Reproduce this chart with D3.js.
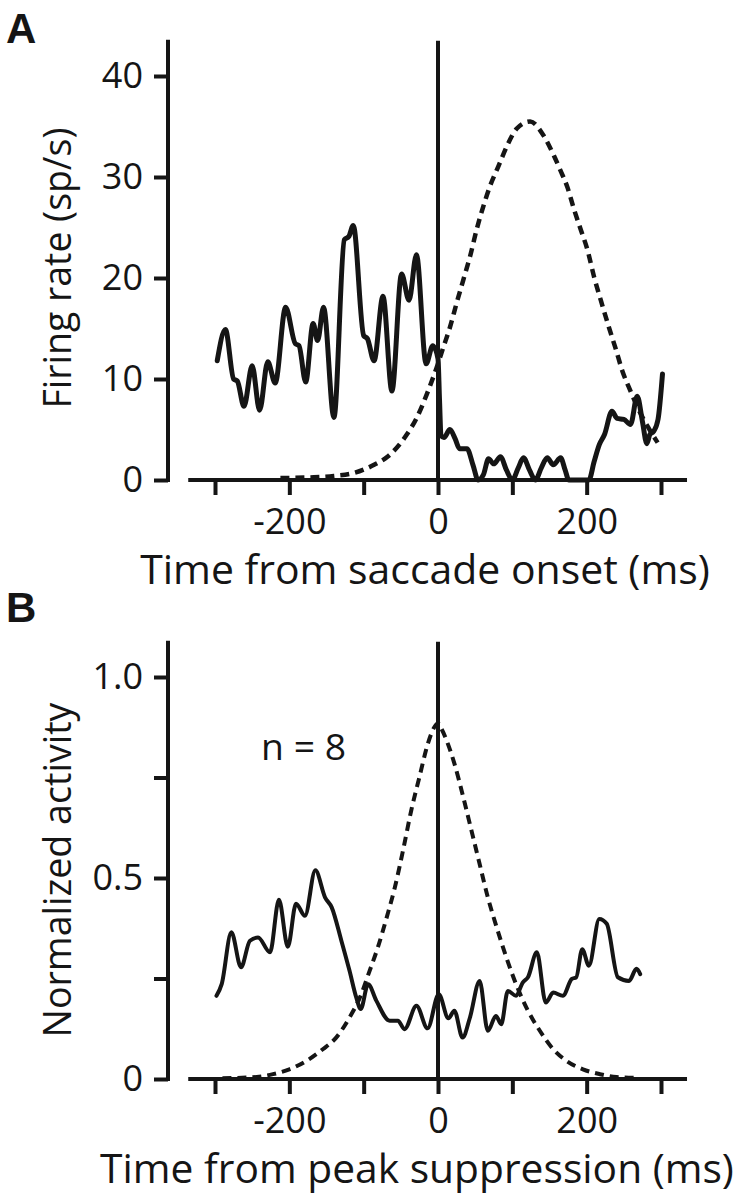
<!DOCTYPE html>
<html>
<head>
<meta charset="utf-8">
<script src="https://cdn.jsdelivr.net/npm/d3@7"></script>
<style>
html,body{margin:0;padding:0;background:#fff;}
svg{display:block;}
</style>
</head>
<body>
<svg id="chart" width="745" height="1199"></svg>
<script>
// ---------- data ----------
const xTicks = [-300, -200, -100, 0, 100, 200, 300];
const xTickLabels = ["", "-200", "", "0", "", "200", ""];
const yTicksA = [0, 10, 20, 30, 40];
const yTickLabelsA = ["0", "10", "20", "30", "40"];
const yTicksB = [0, 0.25, 0.5, 0.75, 1.0];
const yTickLabelsB = ["0", "", "0.5", "", "1.0"];

// Panel A: firing rate (solid)
const aSolidTime = [-297,-286,-275,-270,-261,-250,-240,-229,-219,-205,-192,-187,-178,-168,-162,-154,-140,-126,-120,-114,-100,-95,-86,-74,-62,-49,-39,-29,-16,-7,0,2,4,8,16,23,29,39,47,54,61,68,75,84,92,100,108,115,123,131,139,147,155,165,171,176,203,210,217,224,234,241,250,259,268,275,281,285,290,296,302];
const aSolidRate = [11.8,14.9,10.0,9.8,7.3,11.3,6.9,11.7,9.6,17.1,13.5,13.3,9.7,15.5,13.8,17.1,6.2,23.8,24.1,25.2,14.3,14.0,11.8,18.2,8.8,20.4,17.8,22.3,11.5,13.3,12.0,8.0,4.4,4.2,5.0,4.1,3.1,3.1,1.5,0,0.5,2.1,1.6,2.3,1.0,0,1.2,2.2,1.0,0,1.2,2.2,1.5,2.2,1.0,0,0,1.8,3.5,4.5,6.8,6.1,6.0,5.5,8.3,5.8,3.6,4.5,4.8,6.0,10.5];
// Panel A: dashed curve
const aDashTime = [-212,-167,-140,-113,-86,-68,-42,-29,-15,-2,7,16,25,34,43,52,61,70,81.5,93,106,124,142,156,165,174,183,192,201,210,219,230,239,248,259,271,282,295.5];
const aDashRate = [0.2,0.27,0.4,0.7,1.5,2.3,4.5,6.1,8.5,11.1,13.1,15.1,17.5,19.8,22.1,24.8,27.1,29.1,31.1,33.1,34.8,35.5,34.1,32.1,30.6,29.0,26.8,24.8,22.8,20.1,17.8,15.1,13.0,10.8,8.8,6.8,5.3,3.7];

// Panel B: normalized activity (solid)
const bSolidTime = [-298,-291,-278,-265,-253,-242,-226,-214,-202,-191,-179,-165,-152,-143,-130,-119,-110,-104,-94,-83,-65,-54,-45,-29,-14,1,14,22,33,43,56,67,78,85,94,105,114,121,133,145,155,168,180,186,194,203,217,227,242,257,267,272];
const bSolidVal = [0.207,0.236,0.365,0.278,0.344,0.352,0.315,0.446,0.329,0.436,0.406,0.519,0.452,0.427,0.344,0.269,0.203,0.174,0.236,0.195,0.145,0.145,0.124,0.182,0.126,0.211,0.151,0.170,0.103,0.153,0.244,0.120,0.157,0.136,0.219,0.207,0.240,0.253,0.315,0.190,0.215,0.207,0.249,0.253,0.323,0.282,0.398,0.386,0.253,0.244,0.274,0.261];
// Panel B: dashed curve
const bDashTime = [-290,-244,-222,-200,-177,-155,-137,-119,-105,-92,-81,-69,-58,-47,-36,-25,-13.5,-5,0,5,12,22,34,45,56,67,79,92,105,121,137,155,173,195,218,240,269];
const bDashVal = [0.002,0.005,0.012,0.024,0.045,0.074,0.103,0.153,0.203,0.269,0.327,0.402,0.477,0.569,0.668,0.751,0.835,0.875,0.885,0.870,0.840,0.785,0.701,0.618,0.535,0.452,0.377,0.302,0.236,0.170,0.120,0.074,0.045,0.024,0.012,0.005,0.003];

// ---------- drawing ----------
const FONT = "'Open Sans', 'Noto Sans', sans-serif";
const INK = "#151515";
const TICK_FS = 36;
const svg = d3.select("#chart");

function fitText(sel, targetW) {
  const w = sel.node().getComputedTextLength();
  const fs = parseFloat(sel.attr("font-size"));
  sel.attr("font-size", fs * targetW / w);
}

function panel(cfg) {
  const g = svg.append("g");
  const x = d3.scaleLinear().domain([-300, 300]).range([215, 661]);
  const y = d3.scaleLinear().domain(cfg.yDomain).range(cfg.yRange);

  // y axis
  const yAxis = d3.axisLeft(y).tickValues(cfg.yTicks)
    .tickFormat((d, i) => cfg.yLabels[i]).tickSize(14).tickSizeOuter(0).tickPadding(11);
  const gy = g.append("g").attr("transform", "translate(168,0)").call(yAxis);
  gy.select(".domain").remove();
  gy.selectAll(".tick line").attr("stroke", INK).attr("stroke-width", 4);
  gy.selectAll("text").attr("font-family", FONT).attr("font-size", TICK_FS).attr("fill", INK);
  g.append("line").attr("x1", 168).attr("x2", 168)
    .attr("y1", y(cfg.yTop)).attr("y2", y(0) + 2)
    .attr("stroke", INK).attr("stroke-width", 4);

  // x axis
  const xAxis = d3.axisBottom(x).tickValues(xTicks)
    .tickFormat((d, i) => xTickLabels[i]).tickSize(15).tickSizeOuter(0).tickPadding(13);
  const gx = g.append("g").attr("transform", `translate(0,${y(0)})`).call(xAxis);
  gx.select(".domain").remove();
  gx.selectAll(".tick line").attr("stroke", INK).attr("stroke-width", 4);
  gx.selectAll("text").attr("font-family", FONT).attr("font-size", TICK_FS).attr("fill", INK);
  g.append("line").attr("x1", x(-336)).attr("x2", x(335))
    .attr("y1", y(0)).attr("y2", y(0))
    .attr("stroke", INK).attr("stroke-width", 4);

  // vertical line at time 0
  g.append("line").attr("x1", x(0)).attr("x2", x(0))
    .attr("y1", y(cfg.yTop) + 1).attr("y2", y(0))
    .attr("stroke", INK).attr("stroke-width", 4);

  // dashed curve
  const dashData = cfg.dashT.map((t, i) => [t, cfg.dashV[i]]);
  g.append("path").datum(dashData)
    .attr("d", d3.line().x(d => x(d[0])).y(d => y(d[1])).curve(d3.curveMonotoneX))
    .attr("fill", "none").attr("stroke", INK).attr("stroke-width", cfg.dashW)
    .attr("stroke-dasharray", "9,6");

  // solid curve
  const solidData = cfg.solidT.map((t, i) => [t, cfg.solidV[i]]);
  g.append("path").datum(solidData)
    .attr("d", d3.line().x(d => x(d[0])).y(d => y(d[1])).curve(d3.curveMonotoneX))
    .attr("fill", "none").attr("stroke", INK).attr("stroke-width", cfg.solidW)
    .attr("stroke-linejoin", "round").attr("stroke-linecap", "round");

  // axis titles
  const xt = g.append("text").text(cfg.xTitle)
    .attr("font-family", FONT).attr("font-size", 34).attr("fill", INK)
    .attr("text-anchor", "middle").attr("x", cfg.xTitleCx).attr("y", y(0) + 104);
  fitText(xt, cfg.xTitleW);

  const yt = g.append("text").text(cfg.yTitle)
    .attr("font-family", FONT).attr("font-size", 32).attr("fill", INK)
    .attr("text-anchor", "middle")
    .attr("transform", `translate(71,${cfg.yTitleCy}) rotate(-90)`);
  fitText(yt, cfg.yTitleW);

  // panel letter
  g.append("text").text(cfg.letter)
    .attr("font-family", "'Liberation Sans', Arial, sans-serif").attr("font-weight", "bold")
    .attr("font-size", 42).attr("fill", INK)
    .attr("x", 6).attr("y", cfg.letterY);

  return { g, x, y };
}

panel({
  yDomain: [0, 40], yRange: [480, 76], yTop: 43.6,
  yTicks: yTicksA, yLabels: yTickLabelsA,
  solidT: aSolidTime, solidV: aSolidRate, solidW: 5,
  dashT: aDashTime, dashV: aDashRate, dashW: 4.5,
  xTitle: "Time from saccade onset (ms)", xTitleCx: 425, xTitleW: 570,
  yTitle: "Firing rate (sp/s)", yTitleCy: 268, yTitleW: 281,
  letter: "A", letterY: 43
});

const pB = panel({
  yDomain: [0, 1], yRange: [1079, 677], yTop: 1.09,
  yTicks: yTicksB, yLabels: yTickLabelsB,
  solidT: bSolidTime, solidV: bSolidVal, solidW: 4,
  dashT: bDashTime, dashV: bDashVal, dashW: 4,
  xTitle: "Time from peak suppression (ms)", xTitleCx: 417, xTitleW: 634,
  yTitle: "Normalized activity", yTitleCy: 870, yTitleW: 335,
  letter: "B", letterY: 622
});

const nt = pB.g.append("text").text("n = 8")
  .attr("font-family", FONT).attr("font-size", 31).attr("fill", INK)
  .attr("x", pB.x(-238)).attr("y", 760);
fitText(nt, 85);
</script>
</body>
</html>
